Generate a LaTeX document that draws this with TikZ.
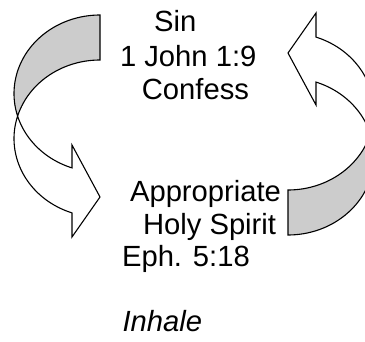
\documentclass[tikz,border=0pt]{standalone}
\usepackage{fontspec}
\setmainfont{Liberation Sans}
\definecolor{backgray}{RGB}{204,204,204}
\newcommand\curvedArrowShape{%
  % back face (gray)
  \filldraw[backface]
    plot[domain=-90:-196.64, samples=50, variable=\t] ({100+86*cos(\t)},{93.6+78.6*sin(\t)})
    -- plot[domain=196.64:270, samples=40, variable=\t] ({100+86*cos(\t)},{138.6+78.6*sin(\t)})
    -- cycle;
  % front face with arrowhead (white)
  \filldraw[frontface]
    plot[domain=-196.64:-251.0, samples=40, variable=\t] ({100+86*cos(\t)},{93.6+78.6*sin(\t)})
    -- (72,145) -- (100,197) -- (72,237) -- (72,213)
    -- plot[domain=109.0:196.64, samples=40, variable=\t] ({100+86*cos(\t)},{138.6+78.6*sin(\t)})
    -- cycle;
}
\begin{document}
\begin{tikzpicture}[x=1pt,y=-1pt, line width=1.1pt, line join=miter,
  lbl/.style={anchor=base west, inner sep=0pt, font=\fontsize{29.2}{34}\selectfont},
  backface/.style={fill=backgray, draw=black},
  frontface/.style={fill=white, draw=black}]
  \useasboundingbox (0,0) rectangle (365,342);
  \begin{scope}
    \clip (0,0) rectangle (365,342);
    \curvedArrowShape
    \begin{scope}[rotate around={180:(194,125)}]
      \curvedArrowShape
    \end{scope}
  \end{scope}
  \node[lbl] (sin) at (153.5,31.5) {Sin};
  \node[lbl] (john) at (119.5,66.5) {1 John 1:9};
  \node[lbl] (conf) at (141.3,100) {Confess};
  \node[lbl] (appr) at (129.5,201.5) {Appropriate};
  \node[lbl] (holy) at (142.5,235) {Holy Spirit};
  \node[lbl] (eph) at (121.5,266.5) {Eph. 5:18};
  \node[lbl, font=\fontsize{29.2}{34}\selectfont\itshape] (inh) at (122,332) {Inhale};
\end{tikzpicture}
\end{document}
